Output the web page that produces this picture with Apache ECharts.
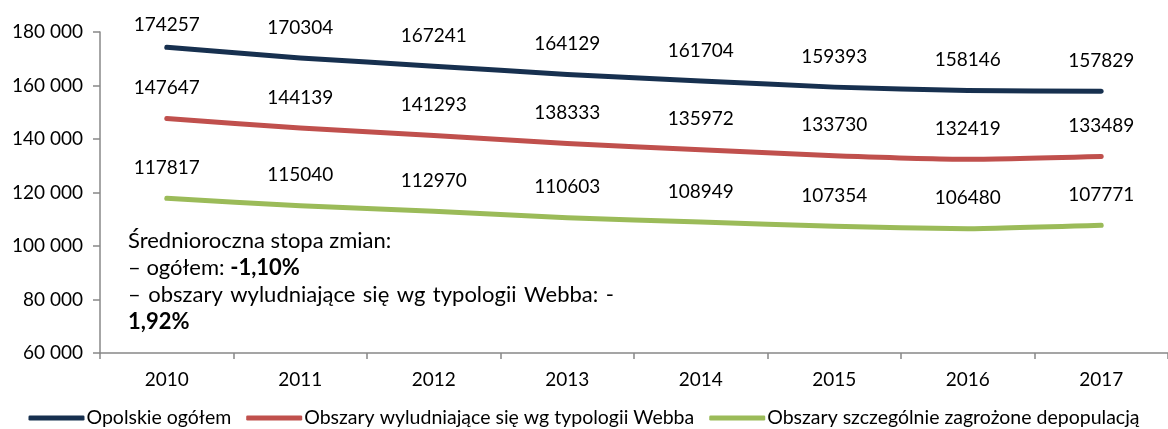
<!DOCTYPE html>
<html>
<head>
<meta charset="utf-8">
<script src="https://cdn.jsdelivr.net/npm/echarts@6/dist/echarts.min.js"></script>
<style>
html,body{margin:0;padding:0;background:#fff;}
#chart{width:1168px;height:429px;}
</style>
</head>
<body>
<div id="chart"></div>
<script>
const years = ['2010','2011','2012','2013','2014','2015','2016','2017'];
const seriesNames = ['Opolskie ogółem','Obszary wyludniające się wg typologii Webba','Obszary szczególnie zagrożone depopulacją'];
const opolskie = [174257,170304,167241,164129,161704,159393,158146,157829];
const webba = [147647,144139,141293,138333,135972,133730,132419,133489];
const zagrozone = [117817,115040,112970,110603,108949,107354,106480,107771];
const yTicks = {min:60000, max:180000, interval:20000};
const noteTitle = 'Średnioroczna stopa zmian:';
const noteLine3Words = ['–','obszary','wyludniające','się','wg','typologii','Webba:','-'];

const FONT = 'Lato, "Open Sans", sans-serif';
const FS = 19;
const NFS = 22;
const colors = ['#17304F','#C0504D','#9BBB59'];

function mk(name, vals, color, firstDist){
  return {
    name: name,
    type: 'line',
    data: vals.map((v,i)=> (i===0 && firstDist!=null) ? {value:v, label:{distance:firstDist}} : v),
    symbol: 'circle',
    symbolSize: 2,
    showSymbol: true,
    smooth: 0.15,
    lineStyle: {color: color, width: 5, cap: 'round', join: 'round'},
    itemStyle: {color: color},
    label: {show: true, position: 'top', distance: 20, color: '#000', fontSize: FS, fontFamily: FONT},
    z: 3
  };
}

const line3 = noteLine3Words.map(w => '{t|' + w + '}').join('{s| }');

const chart = echarts.init(document.getElementById('chart'), null, {renderer:'canvas'});
chart.setOption({
  animation: false,
  backgroundColor: '#fff',
  textStyle: {fontFamily: FONT},
  grid: {left: 100, top: 32, width: 1072, height: 321, containLabel: false},
  xAxis: {
    type: 'category',
    data: years,
    boundaryGap: true,
    axisLine: {lineStyle: {color: '#888', width: 1.5}},
    axisTick: {show: true, length: 6, lineStyle: {color: '#888', width: 1.5}},
    axisLabel: {color: '#000', fontSize: FS, fontFamily: FONT, margin: 17}
  },
  yAxis: {
    type: 'value',
    min: yTicks.min, max: yTicks.max, interval: yTicks.interval,
    axisLine: {show: true, lineStyle: {color: '#888', width: 1.5}},
    axisTick: {show: true, length: 7, lineStyle: {color: '#888', width: 1.5}},
    splitLine: {show: false},
    axisLabel: {color: '#000', fontSize: FS, fontFamily: FONT, margin: 17,
      formatter: v => String(v).replace(/\B(?=(\d{3})+(?!\d))/g, ' ')}
  },
  legend: {
    data: seriesNames,
    left: 'center',
    top: 403,
    icon: 'roundRect',
    itemWidth: 56,
    itemHeight: 5,
    itemGap: 15,
    textStyle: {color: '#000', fontSize: 19.5, fontFamily: FONT, padding: [0,0,0,-3]}
  },
  graphic: [
    {type:'text', left: 128, top: 230, style:{text: noteTitle, font: NFS+'px '+FONT, fill:'#000'}},
    {type:'text', left: 128, top: 257, style:{text: '{n|– ogółem: }{b|-1,10%}', rich:{n:{fontSize:NFS,fontFamily:FONT,fill:'#000'}, b:{fontSize:NFS,fontFamily:FONT,fontWeight:'bold',fill:'#000'}}, fill:'#000'}},
    {type:'text', left: 128, top: 284, style:{text: line3, rich:{t:{fontSize:NFS,fontFamily:FONT,fill:'#000'}, s:{fontSize:NFS,fontFamily:FONT,width:7.5}}, fill:'#000'}},
    {type:'text', left: 128, top: 311, style:{text: '1,92%', font: 'bold '+NFS+'px '+FONT, fill:'#000'}}
  ],
  series: [
    mk(seriesNames[0], opolskie, colors[0], 12),
    mk(seriesNames[1], webba, colors[1]),
    mk(seriesNames[2], zagrozone, colors[2])
  ]
});
</script>
</body>
</html>
